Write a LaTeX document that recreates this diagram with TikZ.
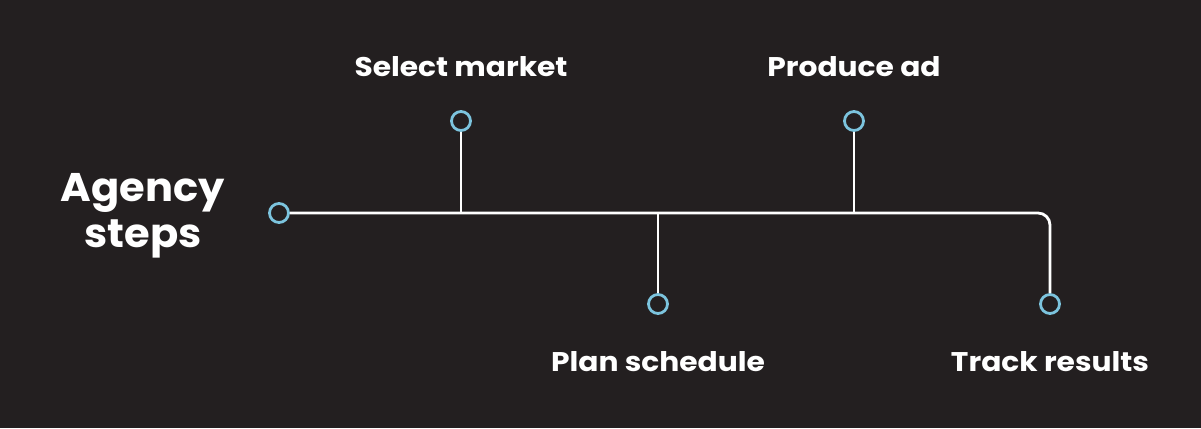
\documentclass[tikz,border=0pt]{standalone}
\usepackage{fontspec}
\setmainfont{Poppins}[BoldFont={Poppins Bold}]
\newfontfamily\labfont{Poppins Bold}[FakeStretch=1.1]
\newfontfamily\titfont{Poppins Bold}[FakeStretch=1.04]
\definecolor{bg}{HTML}{231F20}
\definecolor{dot}{HTML}{7CC4DE}
\begin{document}
\begin{tikzpicture}[x=1pt,y=-1pt,
  wire/.style={draw=white,line width=2.8pt},
  dotnode/.style={circle,draw=dot,line width=2.8pt,fill=bg,minimum size=19pt,inner sep=0pt},
  lab/.style={text=white,font=\labfont\fontsize{27}{31}\selectfont,anchor=base,inner sep=0pt},
  title/.style={text=white,font=\titfont\fontsize{40}{46}\selectfont,align=center,inner sep=0pt}]
\fill[bg] (0,0) rectangle (1201,428);
\useasboundingbox (0,0) rectangle (1201,428);
\coordinate (j1) at (461,213);
\coordinate (j2) at (658,213);
\coordinate (j3) at (854,213);
\node[dotnode] (s) at (279,213) {};
\node[dotnode] (d1) at (461,121) {};
\node[dotnode] (d2) at (658,304) {};
\node[dotnode] (d3) at (854,121) {};
\node[dotnode] (d4) at (1050,304) {};
\draw[wire,rounded corners=12pt] (s.east) -- (1050,213) -- (d4.north);
\draw[wire] (j1) -- (d1.south);
\draw[wire] (j2) -- (d2.north);
\draw[wire] (j3) -- (d3.south);
\node[lab] (l1) at (461,77) {Select market};
\node[lab] (l3) at (854,77) {Produce ad};
\node[lab] (l2) at (658,371) {Plan schedule};
\node[lab] (l4) at (1050,371) {Track results};
\node[title] (t) at (143,216) {Agency\\steps};
\end{tikzpicture}
\end{document}
